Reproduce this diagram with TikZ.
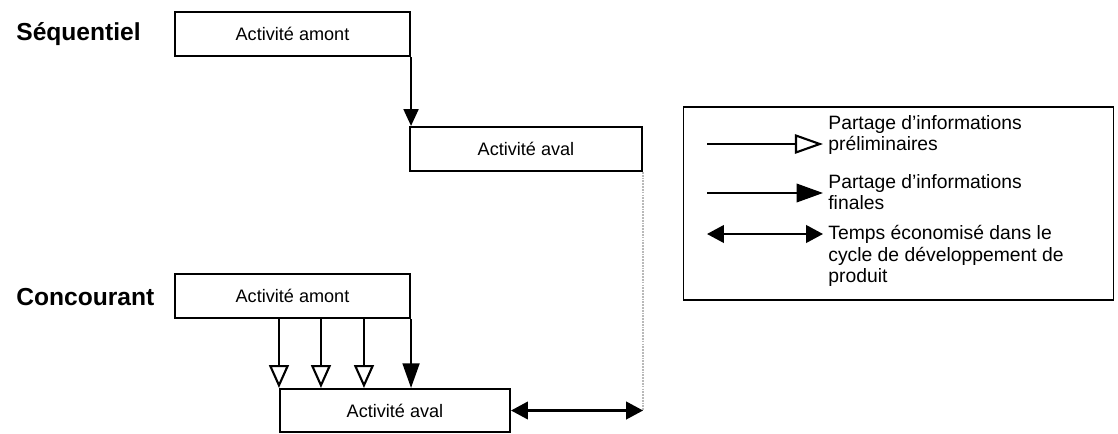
\documentclass[tikz,border=0pt]{standalone}
\usepackage{fontspec}
\setmainfont{Liberation Sans}
\usetikzlibrary{arrows.meta, calc}

\begin{document}
\begin{tikzpicture}[
    x=0.02cm, y=-0.02cm,
    actbox/.style={shape=rectangle, draw=black, line width=1.2pt, minimum width=4.7cm, minimum height=0.88cm, inner sep=0pt, font=\fontsize{10.3}{12}\selectfont},
    modelabel/.style={anchor=west, inner sep=0pt, font=\fontsize{14}{16}\selectfont\bfseries},
    legtext/.style={anchor=west, align=left, inner sep=0pt, font=\fontsize{11}{12.2}\selectfont},
    finale/.style={line width=1.2pt, -{Triangle[width=8.5pt, length=9.6pt]}},
    prelim/.style={line width=1.2pt, -{Triangle[open, fill=white, width=11.3pt, length=13pt]}},
    gain/.style={line width=1.2pt, {Triangle[width=10pt, length=9.6pt]}-{Triangle[width=10pt, length=9.6pt]}},
]
\useasboundingbox (0,0) rectangle (1118,433);

% sequentiel
\node[modelabel] (seq) at (16,34) {Séquentiel};
\node[actbox] (amont1) at (292.5,34) {Activité amont};
\node[actbox, minimum width=4.64cm] (aval1) at (526,149) {Activité aval};
\draw[finale] (amont1.south east) -- (amont1.south east |- aval1.north);

% concourant
\node[modelabel] (conc) at (16,297) {Concourant};
\node[actbox] (amont2) at (292.5,296) {Activité amont};
\node[actbox, minimum width=4.6cm, minimum height=0.86cm] (aval2) at (395,410.5) {Activité aval};
\foreach \dx in {0,42,85}
    \draw[prelim] ($(aval2.north west |- amont2.south)+(\dx,0)$) -- ($(aval2.north west)+(\dx,0)$);
\draw[finale, -{Triangle[width=9.6pt, length=14pt]}] (amont2.south east) -- (amont2.south east |- aval2.north);

% temps gagne
\coordinate (fin) at (aval1.south east |- aval2.east);
\draw[gray!55, line width=1.3pt, dash pattern=on 1pt off 0.6pt] (aval1.south east) -- (fin);
\draw[gain] (aval2.east) -- (fin);

% legende
\node[draw=black, line width=1pt, minimum width=8.6cm, minimum height=3.86cm, inner sep=0pt] (legend) at (898.5,203.5) {};
\coordinate (p1) at (707,144);
\coordinate (p2) at (823,144);
\coordinate (f1) at (707,193);
\coordinate (f2) at (823,193);
\coordinate (g1) at (707,234);
\coordinate (g2) at (823,234);
\draw[line width=1.2pt, -{Triangle[open, fill=white, width=11pt, length=16pt]}] (p1) -- (p2);
\draw[line width=1.2pt, -{Triangle[width=10.5pt, length=15pt]}] (f1) -- (f2);
\draw[gain] (g1) -- (g2);
\node[legtext] (lp) at (828,135) {Partage d'informations\\préliminaires};
\node[legtext] (lf) at (828,192) {Partage d'informations\\finales};
\node[legtext, anchor=north west] (lg) at (828,225) {Temps économisé dans le\\cycle de développement de\\produit};
\end{tikzpicture}
\end{document}
